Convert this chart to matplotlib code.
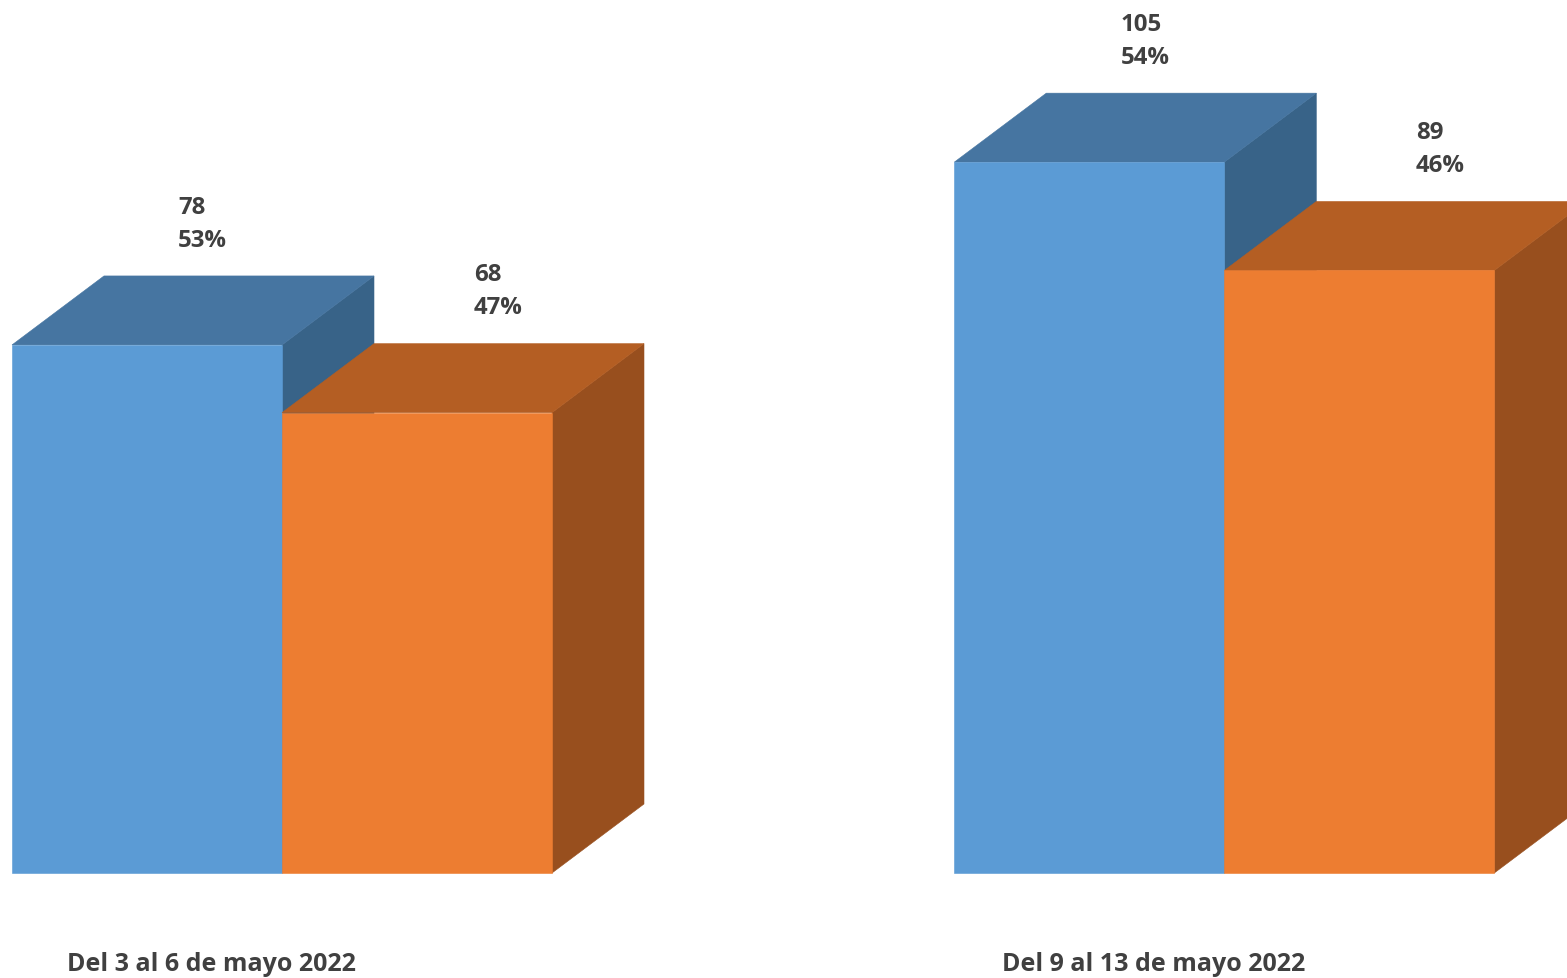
import matplotlib.pyplot as plt
from matplotlib.patches import Polygon

# data
categories = ['Del 3 al 6 de mayo 2022', 'Del 9 al 13 de mayo 2022']
serie_a = [78, 105]
serie_b = [68, 89]
pct_a = ['53%', '54%']
pct_b = ['47%', '46%']

# colours (front, top, side) per series
colores = [('#5B9BD5', '#4675A1', '#386388'),
           ('#ED7D31', '#B45E23', '#984F1E')]
txt_color = '#404040'
font = ['Open Sans', 'DejaVu Sans']

W, H = 1567, 979
fig = plt.figure(figsize=(W / 100, H / 100), dpi=100)
ax = fig.add_axes([0, 0, 1, 1])

px_val = 6.77          # pixels per unit of value
base_px = 105          # baseline height from bottom, px
bar_px = 270           # bar width, px
group_sp = 3.49        # distance between group centres (bar widths)
dx = 92 / bar_px       # depth offset in x
dy = 69 / px_val       # depth offset in y
ax.set_xlim(-282 / bar_px, (W - 282) / bar_px)
ax.set_ylim(-base_px / px_val, (H - base_px) / px_val)
ax.axis('off')

label_dx = [0.615, 0.71]
label_gap = 3.6

for g, cat in enumerate(categories):
    c = g * group_sp
    for s, (vals, pcts) in enumerate([(serie_a, pct_a), (serie_b, pct_b)]):
        v = vals[g]
        x0 = c - 1 + s
        x1 = x0 + 1
        front, top, side = colores[s]
        ax.add_patch(Polygon([(x1, 0), (x1 + dx, dy), (x1 + dx, v + dy), (x1, v)],
                             closed=True, facecolor=side, edgecolor=side, lw=0.4))
        ax.add_patch(Polygon([(x0, v), (x0 + dx, v + dy), (x1 + dx, v + dy), (x1, v)],
                             closed=True, facecolor=top, edgecolor=top, lw=0.4))
        ax.add_patch(Polygon([(x0, 0), (x1, 0), (x1, v), (x0, v)],
                             closed=True, facecolor=front, edgecolor=front, lw=0.4))
        ax.text(x0 + label_dx[s], v + dy + label_gap, f'{v}\n{pcts[g]}',
                ha='left', va='bottom', fontsize=17.3, fontweight='bold',
                color=txt_color, family=font, linespacing=1.5)
    ax.text(c - 0.26, -13.3, cat, ha='center', va='center', fontsize=18,
            fontweight='bold', color=txt_color, family=font)

fig.savefig('out.png', dpi=100, facecolor='white')
